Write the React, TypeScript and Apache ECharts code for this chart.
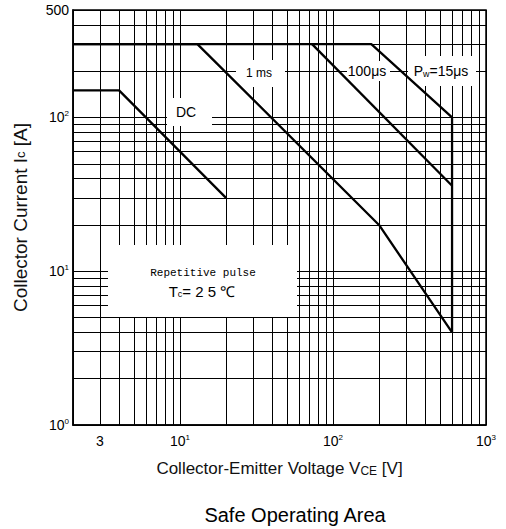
import React, { useEffect, useRef } from 'react';
import * as echarts from 'echarts';

// Log grid lines (values, on each axis)
const xGridValues = [2, 3, 4, 5, 6, 7, 8, 9, 10, 20, 30, 40, 50, 60, 70, 80, 90, 100, 200, 300, 400, 500, 600, 700, 800, 900, 1000];
const yGridValues = [1, 2, 3, 4, 5, 6, 7, 8, 9, 10, 20, 30, 40, 50, 60, 70, 80, 90, 100, 200, 300, 400, 500];
// Tick labels
const xTickLabels = [3, 10, 100, 1000];
const yTickLabels = [1, 10, 100, 500];

// SOA boundary curves [Vce (V), Ic (A)]
const dcCurve = [[2, 150], [4, 150], [20, 30]];
const ms1Curve = [[2, 300], [13, 300], [200, 20], [600, 4]];
const us100Curve = [[73, 300], [600, 36]];
const us15Curve = [[2, 300], [178, 300], [600, 100], [600, 4]];

const FONT = 'Liberation Sans, Arial, sans-serif';
const NARROW = 'Liberation Sans Narrow, Liberation Sans, sans-serif';

function tickFormatter(v: number): string {
  if (v === 500) return '{b|500}';
  if (v === 3) return '{b|3}';
  const e = Math.round(Math.log10(v));
  return '{b|10}{sup|' + e + '}';
}

const tickRich = {
  b: { fontSize: 14, fontFamily: NARROW, color: '#000', lineHeight: 16 },
  sup: { fontSize: 8, fontFamily: NARROW, color: '#000', verticalAlign: 'top', lineHeight: 16, padding: [0, 0, 6, 0] },
};

export default function App() {
  const ref = useRef<HTMLDivElement>(null);
  useEffect(() => {
    document.body.style.margin = '0';
    if (!ref.current) return;
    const chart = echarts.init(ref.current, null, { renderer: 'svg' });
    const curveStyle = { color: '#000', width: 2.3 };
    const mkSeries = (name: string, data: number[][]) => ({
      name,
      type: 'line',
      data,
      symbol: 'none',
      z: 5,
      lineStyle: curveStyle,
      silent: true,
    });
    const whiteBox = (x: number, y: number, w: number, h: number) => ({
      type: 'rect',
      shape: { x, y, width: w, height: h },
      style: { fill: '#fff' },
      z: 1,
      silent: true,
    });
    chart.setOption({
      animation: false,
      backgroundColor: '#fff',
      title: {
        text: 'Safe Operating Area',
        left: 290,
        textAlign: 'center',
        top: 500,
        textStyle: { fontSize: 20, fontWeight: 'normal', color: '#000', fontFamily: FONT },
      },
      grid: {
        left: 73,
        right: 20,
        top: 10,
        bottom: 104,
        show: true,
        borderColor: '#000',
        borderWidth: 1.5,
      },
      xAxis: {
        type: 'log',
        logBase: 10,
        min: 2,
        max: 1000,
        name: 'Collector-Emitter Voltage V{s|CE} [V]',
        nameLocation: 'middle',
        nameGap: 35,
        nameTextStyle: {
          fontSize: 17,
          fontFamily: FONT,
          color: '#111',
          rich: { s: { fontSize: 12, fontFamily: FONT, color: '#111', verticalAlign: 'bottom' } },
        },
        axisLine: { show: true, lineStyle: { color: '#000', width: 1.5 } },
        axisTick: { show: false, customValues: xGridValues },
        axisLabel: {
          customValues: xTickLabels,
          margin: 8,
          formatter: tickFormatter,
          rich: tickRich,
        },
        splitLine: { show: true, lineStyle: { color: '#000', width: 1 } },
        minorTick: { show: false },
      },
      yAxis: {
        type: 'log',
        logBase: 10,
        min: 1,
        max: 500,
        name: 'Collector Current I{s|c} [A]',
        nameLocation: 'middle',
        nameGap: 43,
        nameTextStyle: {
          fontSize: 19,
          fontFamily: FONT,
          color: '#111',
          rich: { s: { fontSize: 13, fontFamily: FONT, color: '#111' } },
        },
        axisLine: { show: true, lineStyle: { color: '#000', width: 1.5 } },
        axisTick: { show: false, customValues: yGridValues },
        axisLabel: {
          customValues: yTickLabels,
          margin: 4,
          formatter: tickFormatter,
          rich: tickRich,
        },
        splitLine: { show: true, lineStyle: { color: '#000', width: 1 } },
      },
      graphic: [
        whiteBox(108, 245, 189, 72),
        whiteBox(167, 98, 45, 28),
        whiteBox(236, 60, 49, 27),
        whiteBox(347, 61, 43, 20),
        whiteBox(408, 56, 68, 30),
        {
          type: 'text', x: 186, y: 112, z: 6, silent: true,
          style: { text: 'DC', fontSize: 14, fontFamily: FONT, fill: '#000', align: 'center', verticalAlign: 'middle' },
        },
        {
          type: 'text', x: 259, y: 73, z: 6, silent: true,
          style: { text: '1 ms', fontSize: 12, fontFamily: NARROW, fill: '#000', align: 'center', verticalAlign: 'middle' },
        },
        {
          type: 'text', x: 367, y: 71, z: 6, silent: true,
          style: { text: '100μs', fontSize: 14, fontFamily: NARROW, fill: '#000', align: 'center', verticalAlign: 'middle' },
        },
        {
          type: 'text', x: 441, y: 71, z: 6, silent: true,
          style: {
            text: 'P{s|w}=15μs', fontSize: 14, fontFamily: NARROW, fill: '#000', align: 'center', verticalAlign: 'middle',
            rich: { s: { fontSize: 9, fontFamily: NARROW, fill: '#000', verticalAlign: 'bottom' } },
          },
        },
        {
          type: 'text', x: 203, y: 273, z: 6, silent: true,
          style: { text: 'Repetitive pulse', fontSize: 11, fontFamily: 'Liberation Mono, DejaVu Sans Mono, monospace', fill: '#000', align: 'center', verticalAlign: 'middle' },
        },
        {
          type: 'text', x: 202, y: 291, z: 6, silent: true,
          style: {
            text: 'T{s|c}= 2 5 ℃', fontSize: 15, fontFamily: NARROW, fill: '#000', align: 'center', verticalAlign: 'middle',
            rich: { s: { fontSize: 9, fontFamily: NARROW, fill: '#000', verticalAlign: 'bottom' } },
          },
        },
      ],
      series: [
        mkSeries('DC', dcCurve),
        mkSeries('1 ms', ms1Curve),
        mkSeries('100 μs', us100Curve),
        mkSeries('Pw=15 μs', us15Curve),
      ],
    });
    return () => chart.dispose();
  }, []);
  return <div ref={ref} style={{ width: 506, height: 529 }} />;
}
